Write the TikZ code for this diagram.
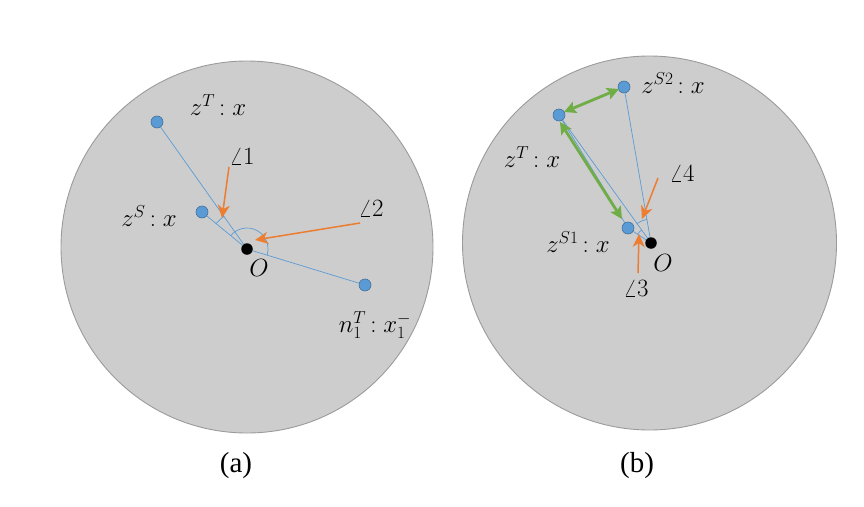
\documentclass[tikz,border=0pt]{standalone}
\usepackage{fontspec}
\setmainfont{Liberation Serif}
\usetikzlibrary{arrows.meta,calc}
\definecolor{dotblue}{RGB}{91,155,213}
\definecolor{dotedge}{RGB}{65,113,156}
\definecolor{lineblue}{RGB}{91,155,213}
\definecolor{orangearr}{RGB}{237,125,49}
\definecolor{greenarr}{RGB}{112,173,71}
\definecolor{diskfill}{RGB}{205,205,205}
\definecolor{diskedge}{RGB}{155,155,155}
\begin{document}
\begin{tikzpicture}[x=1pt,y=-1pt,
  disk/.style={fill=diskfill,draw=diskedge,line width=0.9pt},
  bdot/.style={circle,fill=dotblue,draw=dotedge,line width=0.6pt,minimum size=12pt,inner sep=0pt},
  odot/.style={circle,fill=black,minimum size=11.5pt,inner sep=0pt},
  bline/.style={draw=lineblue,line width=0.7pt},
  anglemark/.style={draw=lineblue,line width=0.7pt},
  oarrow/.style={draw=orangearr,line width=1.5pt,-{Stealth[length=13pt,width=12pt,inset=4pt]}},
  garrow/.style={draw=greenarr,line width=2.8pt,{Stealth[length=12pt,width=12pt,inset=2.5pt]}-{Stealth[length=12pt,width=12pt,inset=2.5pt]}},
  lbl/.style={inner sep=0pt,font=\fontsize{26}{30}\selectfont},
  captext/.style={inner sep=0pt,font=\fontsize{29}{33}\selectfont}]
\useasboundingbox (0,0) rectangle (864,506);
% disks
\path[disk] (247,247) circle[radius=186pt];
\path[disk] (649.5,243) circle[radius=187pt];

% ---------- (a) ----------
\node[bdot] (zTa) at (157,122) {};
\node[bdot] (zSa) at (202,212) {};
\node[odot] (Oa) at (247,249) {};
\node[bdot] (na) at (365,285) {};
\draw[bline] (zTa) -- (Oa);
\draw[bline] (zSa) -- (Oa);
\draw[bline] (na) -- (Oa);
\draw[anglemark] ($(Oa.center)+(125.1:40pt)$) arc[start angle=125.1,end angle=140.2,radius=40pt];
\draw[anglemark] ($(Oa.center)+(140.2:21pt)$) arc[start angle=140.2,end angle=-16.5,radius=21pt];
\node[lbl] (lzTa) at (218,105) {$z^T\mskip-2mu : x$};
\node[lbl] (lzSa) at (149,216) {$z^S\mskip-2mu : x$};
\node[lbl] (la1) at (242,156) {$\angle 1$};
\node[lbl] (la2) at (371,208) {$\angle 2$};
\node[lbl] (lOa) at (259,268) {$O$};
\node[lbl] (lna) at (375,325) {$n_1^T\mskip-2mu : x_1^-$};
\coordinate (a1s) at (229,167);
\coordinate (a1t) at (222,218);
\coordinate (a2s) at (360,223);
\coordinate (a2t) at (255,240);
\draw[oarrow] (a1s) -- (a1t);
\draw[oarrow] (a2s) -- (a2t);
\node[captext] (capa) at (236,466) {(a)};

% ---------- (b) ----------
\node[bdot] (zS2) at (624,87) {};
\node[bdot] (zTb) at (559,115) {};
\node[bdot] (zS1) at (628,228) {};
\node[odot] (Ob) at (651,243) {};
\draw[bline] (zTb) -- (Ob);
\draw[bline] (zTb) -- (zS1);
\draw[bline] (zS2) -- (Ob);
\draw[bline] (zS1) -- (Ob);
\draw[anglemark] ($(Ob.center)+(99.8:24pt)$) arc[start angle=99.8,end angle=125.7,radius=24pt];
\draw[anglemark] ($(Ob.center)+(125.7:16pt)$) arc[start angle=125.7,end angle=146.9,radius=16pt];
\coordinate (g1) at (564,112);
\coordinate (g2) at (619,89);
\draw[garrow] (g1) -- (g2);
\coordinate (g3) at (560,122);
\coordinate (g4) at (622,219);
\draw[garrow] (g3) -- (g4);
\node[lbl] (lzS2) at (673,83) {$z^{S2}\mskip-2mu : x$};
\node[lbl] (lzTb) at (532,157) {$z^T\mskip-2mu : x$};
\node[lbl] (lzS1) at (578,242) {$z^{S1}\mskip-2mu : x$};
\node[lbl] (la4) at (682,173) {$\angle 4$};
\node[lbl] (lOb) at (663,263) {$O$};
\node[lbl] (la3) at (636,288) {$\angle 3$};
\coordinate (a4s) at (658,178);
\coordinate (a4t) at (642,219);
\coordinate (a3s) at (638,273);
\coordinate (a3t) at (639,234);
\draw[oarrow] (a4s) -- (a4t);
\draw[oarrow] (a3s) -- (a3t);
\node[captext] (capb) at (637,466) {(b)};
\end{tikzpicture}
\end{document}
